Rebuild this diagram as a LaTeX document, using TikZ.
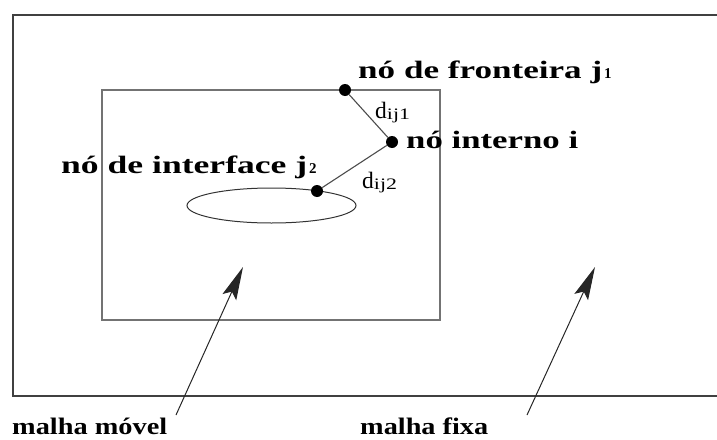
\documentclass[tikz,border=0pt]{standalone}
\usepackage{fontspec}
\usepackage{graphicx}
\setmainfont{Liberation Serif}
\newfontfamily\plainfont{Liberation Serif}
\newfontfamily\plainbold{Liberation Serif Bold}
\usetikzlibrary{arrows.meta}
\newcommand\fitw[2]{\resizebox{#1}{\height}{#2}}
\newcommand\mysub[1]{{\plainbold\fontsize{15}{15}\selectfont #1}}
\newcommand\mydsub[1]{\raisebox{-1pt}{\fitw{23pt}{\plainfont\fontsize{16}{16}\selectfont #1}}}
\begin{document}
\begin{tikzpicture}[x=1pt,y=-1pt,
  outerline/.style={draw=black!75, line width=1.8pt},
  innerline/.style={draw=black!55, line width=1.3pt},
  hole/.style={draw=black!80, line width=1pt},
  dot/.style={circle, fill=black, inner sep=0pt, minimum size=12pt},
  link/.style={draw=black!70, line width=1.1pt},
  pointer/.style={draw=black!85, line width=1pt, -{Stealth[length=33pt,width=15pt,inset=6pt]}},
  big/.style={inner sep=0pt, anchor=base west, font=\plainbold\fontsize{25}{25}\selectfont},
  bot/.style={inner sep=0pt, anchor=base west, font=\plainbold\fontsize{23.7}{24}\selectfont},
  dlab/.style={inner sep=0pt, anchor=base west, font=\plainfont\fontsize{23.5}{24}\selectfont}
]
\useasboundingbox (0,0) rectangle (717,439);
% outer mesh (right side beyond the picture)
\draw[outerline] (720,15) -- (13,15) -- (13,396) -- (720,396);
% inner (moving) mesh
\draw[innerline] (102,90) rectangle (440,320);
% hole
\draw[hole] (271.5,205.5) ellipse [x radius=84.5, y radius=17.5];
% nodes
\node[dot] (j1) at (345,90) {};
\node[dot] (i) at (392,142) {};
\node[dot] (j2) at (317,191) {};
\draw[link] (j1) -- (i);
\draw[link] (i) -- (j2);
% labels
\node[big] (lj1) at (358,78) {\fitw{244pt}{nó de fronteira j}\kern2pt\mysub{1}};
\node[big] (li) at (406,148) {\fitw{172pt}{nó interno i}};
\node[big] (lj2) at (61,173) {\fitw{246pt}{nó de interface j}\kern2pt\mysub{2}};
\node[dlab] (d1) at (375,118) {d\mydsub{ij1}};
\node[dlab] (d2) at (362,188) {d\mydsub{ij2}};
% pointers
\coordinate (mt) at (176,415);
\coordinate (mh) at (243,267);
\coordinate (ft) at (527,415);
\coordinate (fh) at (595,267);
\draw[pointer] (mt) -- (mh);
\draw[pointer] (ft) -- (fh);
\node[bot] (lm) at (12,434.5) {\fitw{155pt}{malha móvel}};
\node[bot] (lf) at (360,434.5) {\fitw{128pt}{malha fixa}};
\end{tikzpicture}
\end{document}
